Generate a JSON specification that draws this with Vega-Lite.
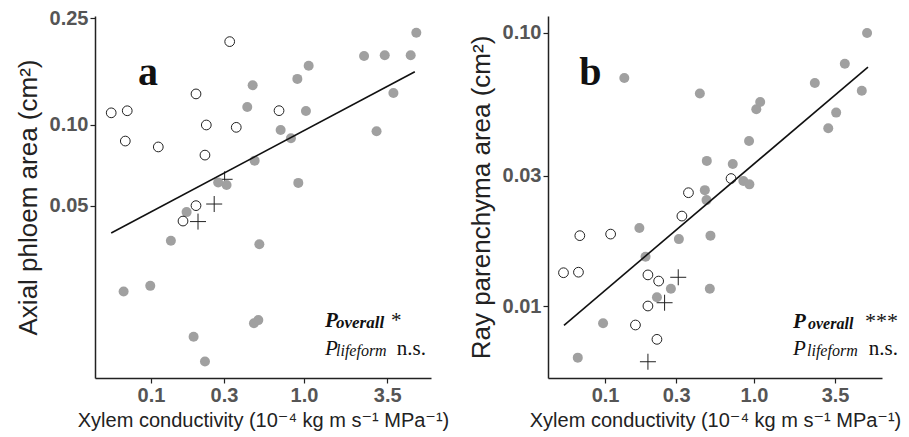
{
  "$schema": "https://vega.github.io/schema/vega-lite/v6.json",
  "padding": {"left": 15, "top": 8, "right": 2, "bottom": 2},
  "background": "white",
  "spacing": 19,
  "config": {
    "view": {"stroke": null},
    "axis": {
      "grid": false,
      "domainColor": "#222",
      "domainWidth": 1.5,
      "tickColor": "#222",
      "tickWidth": 1.2,
      "tickSize": 5,
      "labelPadding": 2,
      "labelFont": "Liberation Sans",
      "labelFontWeight": "bold",
      "labelFontSize": 20,
      "labelColor": "#555",
      "titleFont": "Liberation Sans, DejaVu Sans",
      "titleFontWeight": "normal",
      "titleColor": "#222"
    },
    "axisX": {"titleFontSize": 20, "titlePadding": 5},
    "axisY": {"titleFontSize": 26, "titlePadding": 8}
  },
  "datasets": {
    "a": [
      {"x": 0.055, "y": 0.111, "g": "open"},
      {"x": 0.070, "y": 0.113, "g": "open"},
      {"x": 0.068, "y": 0.0871, "g": "open"},
      {"x": 0.1117, "y": 0.0828, "g": "open"},
      {"x": 0.197, "y": 0.1306, "g": "open"},
      {"x": 0.230, "y": 0.100, "g": "open"},
      {"x": 0.2254, "y": 0.0772, "g": "open"},
      {"x": 0.327, "y": 0.2047, "g": "open"},
      {"x": 0.361, "y": 0.098, "g": "open"},
      {"x": 0.687, "y": 0.1131, "g": "open"},
      {"x": 0.197, "y": 0.050, "g": "open"},
      {"x": 0.162, "y": 0.0438, "g": "open"},
      {"x": 0.259, "y": 0.0507, "g": "cross"},
      {"x": 0.203, "y": 0.0436, "g": "cross"},
      {"x": 0.303, "y": 0.0627, "g": "cross"},
      {"x": 0.0663, "y": 0.0239, "g": "gray"},
      {"x": 0.099, "y": 0.0251, "g": "gray"},
      {"x": 0.135, "y": 0.037, "g": "gray"},
      {"x": 0.171, "y": 0.0473, "g": "gray"},
      {"x": 0.190, "y": 0.0162, "g": "gray"},
      {"x": 0.2254, "y": 0.0131, "g": "gray"},
      {"x": 0.275, "y": 0.061, "g": "gray"},
      {"x": 0.312, "y": 0.0597, "g": "gray"},
      {"x": 0.426, "y": 0.1167, "g": "gray"},
      {"x": 0.462, "y": 0.1406, "g": "gray"},
      {"x": 0.476, "y": 0.0736, "g": "gray"},
      {"x": 0.511, "y": 0.0359, "g": "gray"},
      {"x": 0.471, "y": 0.0182, "g": "gray"},
      {"x": 0.503, "y": 0.0187, "g": "gray"},
      {"x": 0.704, "y": 0.0958, "g": "gray"},
      {"x": 0.822, "y": 0.0892, "g": "gray"},
      {"x": 0.905, "y": 0.1486, "g": "gray"},
      {"x": 0.918, "y": 0.0608, "g": "gray"},
      {"x": 1.03, "y": 0.1127, "g": "gray"},
      {"x": 1.073, "y": 0.1664, "g": "gray"},
      {"x": 2.47, "y": 0.181, "g": "gray"},
      {"x": 2.98, "y": 0.0947, "g": "gray"},
      {"x": 3.37, "y": 0.182, "g": "gray"},
      {"x": 3.84, "y": 0.1316, "g": "gray"},
      {"x": 4.98, "y": 0.182, "g": "gray"},
      {"x": 5.42, "y": 0.221, "g": "gray"}
    ],
    "b": [
      {"x": 0.0526, "y": 0.01324, "g": "open"},
      {"x": 0.0663, "y": 0.0133, "g": "open"},
      {"x": 0.0677, "y": 0.0181, "g": "open"},
      {"x": 0.109, "y": 0.01834, "g": "open"},
      {"x": 0.194, "y": 0.013, "g": "open"},
      {"x": 0.229, "y": 0.01234, "g": "open"},
      {"x": 0.194, "y": 0.010, "g": "open"},
      {"x": 0.160, "y": 0.00852, "g": "open"},
      {"x": 0.223, "y": 0.00755, "g": "open"},
      {"x": 0.328, "y": 0.02135, "g": "open"},
      {"x": 0.363, "y": 0.026, "g": "open"},
      {"x": 0.701, "y": 0.0293, "g": "open"},
      {"x": 0.310, "y": 0.01274, "g": "cross"},
      {"x": 0.251, "y": 0.01028, "g": "cross"},
      {"x": 0.194, "y": 0.00625, "g": "cross"},
      {"x": 0.0656, "y": 0.00647, "g": "gray"},
      {"x": 0.097, "y": 0.00865, "g": "gray"},
      {"x": 0.1347, "y": 0.0684, "g": "gray"},
      {"x": 0.170, "y": 0.0193, "g": "gray"},
      {"x": 0.187, "y": 0.01516, "g": "gray"},
      {"x": 0.223, "y": 0.01076, "g": "gray"},
      {"x": 0.2767, "y": 0.01157, "g": "gray"},
      {"x": 0.313, "y": 0.01758, "g": "gray"},
      {"x": 0.433, "y": 0.06, "g": "gray"},
      {"x": 0.4675, "y": 0.02657, "g": "gray"},
      {"x": 0.48, "y": 0.02443, "g": "gray"},
      {"x": 0.482, "y": 0.034, "g": "gray"},
      {"x": 0.510, "y": 0.0181, "g": "gray"},
      {"x": 0.505, "y": 0.01157, "g": "gray"},
      {"x": 0.720, "y": 0.0331, "g": "gray"},
      {"x": 0.848, "y": 0.0287, "g": "gray"},
      {"x": 0.931, "y": 0.0279, "g": "gray"},
      {"x": 0.926, "y": 0.0402, "g": "gray"},
      {"x": 1.036, "y": 0.0526, "g": "gray"},
      {"x": 1.10, "y": 0.0559, "g": "gray"},
      {"x": 2.56, "y": 0.0656, "g": "gray"},
      {"x": 3.15, "y": 0.0448, "g": "gray"},
      {"x": 3.56, "y": 0.0511, "g": "gray"},
      {"x": 4.07, "y": 0.0772, "g": "gray"},
      {"x": 5.29, "y": 0.0614, "g": "gray"},
      {"x": 5.74, "y": 0.100, "g": "gray"}
    ],
    "fa": [{"x": 0.055, "y": 0.0395}, {"x": 5.3, "y": 0.158}],
    "fb": [{"x": 0.053, "y": 0.0085}, {"x": 5.82, "y": 0.075}]
  },
  "hconcat": [
    {
      "width": 336,
      "height": 362,
      "encoding": {
        "x": {"field": "x", "type": "quantitative",
          "scale": {"type": "log", "domain": [0.0431, 6.76], "nice": false, "zero": false},
          "axis": {"values": [0.1, 0.3, 1, 3.5], "format": ".1f", "title": "Xylem conductivity (10⁻⁴ kg m s⁻¹ MPa⁻¹)"}},
        "y": {"field": "y", "type": "quantitative",
          "scale": {"type": "log", "domain": [0.01137, 0.2551], "nice": false, "zero": false},
          "axis": {"values": [0.05, 0.1, 0.25], "format": ".2f", "title": "Axial phloem area (cm²)"}}
      },
      "layer": [
        {"data": {"name": "a"}, "transform": [{"filter": "datum.g === 'cross'"}],
          "mark": {"type": "point", "shape": "M-1,0H1M0,-1V1", "size": 256, "filled": false, "stroke": "#222", "strokeWidth": 1, "opacity": 1}},
        {"data": {"name": "a"}, "transform": [{"filter": "datum.g === 'gray'"}],
          "mark": {"type": "circle", "size": 100, "color": "#a0a0a0", "opacity": 1}},
        {"data": {"name": "a"}, "transform": [{"filter": "datum.g === 'open'"}],
          "mark": {"type": "circle", "size": 95, "fill": "white", "stroke": "#222", "strokeWidth": 1, "opacity": 1, "fillOpacity": 1}},
        {"data": {"name": "fa"}, "mark": {"type": "line", "color": "#111", "strokeWidth": 1.6}},
        {"data": {"values": [{"x": 0.0822, "y": 0.141, "t": "a"}]},
          "mark": {"type": "text", "font": "Liberation Serif", "fontWeight": "bold", "fontSize": 40, "align": "left", "baseline": "alphabetic", "color": "#111"},
          "encoding": {"text": {"field": "t"}}},
        {"data": {"values": [{"x": 1.372, "y": 0.01763, "t": "P"}]},
          "mark": {"type": "text", "font": "Liberation Serif", "fontWeight": "bold", "fontStyle": "italic", "fontSize": 21, "align": "left", "baseline": "alphabetic", "color": "#111"},
          "encoding": {"text": {"field": "t"}}},
        {"data": {"values": [{"x": 1.619, "y": 0.01748, "t": "overall"}]},
          "mark": {"type": "text", "font": "Liberation Serif", "fontWeight": "bold", "fontStyle": "italic", "fontSize": 17, "align": "left", "baseline": "alphabetic", "color": "#111"},
          "encoding": {"text": {"field": "t"}}},
        {"data": {"values": [{"x": 3.70, "y": 0.01763, "t": "*"}]},
          "mark": {"type": "text", "font": "Liberation Serif", "fontSize": 21, "align": "left", "baseline": "alphabetic", "color": "#111"},
          "encoding": {"text": {"field": "t"}}},
        {"data": {"values": [{"x": 1.372, "y": 0.01386, "t": "P"}]},
          "mark": {"type": "text", "font": "Liberation Serif", "fontStyle": "italic", "fontSize": 21, "align": "left", "baseline": "alphabetic", "color": "#111"},
          "encoding": {"text": {"field": "t"}}},
        {"data": {"values": [{"x": 1.619, "y": 0.01374, "t": "lifeform"}]},
          "mark": {"type": "text", "font": "Liberation Serif", "fontStyle": "italic", "fontSize": 16, "align": "left", "baseline": "alphabetic", "color": "#111"},
          "encoding": {"text": {"field": "t"}}},
        {"data": {"values": [{"x": 6.27, "y": 0.01386, "t": "n.s."}]},
          "mark": {"type": "text", "font": "Liberation Serif", "fontSize": 21, "align": "right", "baseline": "alphabetic", "color": "#111"},
          "encoding": {"text": {"field": "t"}}}
      ]
    },
    {
      "width": 334,
      "height": 362,
      "encoding": {
        "x": {"field": "x", "type": "quantitative",
          "scale": {"type": "log", "domain": [0.0414, 7.23], "nice": false, "zero": false},
          "axis": {"values": [0.1, 0.3, 1, 3.5], "format": ".1f", "title": "Xylem conductivity (10⁻⁴ kg m s⁻¹ MPa⁻¹)"}},
        "y": {"field": "y", "type": "quantitative",
          "scale": {"type": "log", "domain": [0.005449, 0.1154], "nice": false, "zero": false},
          "axis": {"values": [0.01, 0.03, 0.1], "format": ".2f", "title": "Ray parenchyma area (cm²)"}}
      },
      "layer": [
        {"data": {"name": "b"}, "transform": [{"filter": "datum.g === 'cross'"}],
          "mark": {"type": "point", "shape": "M-1,0H1M0,-1V1", "size": 256, "filled": false, "stroke": "#222", "strokeWidth": 1, "opacity": 1}},
        {"data": {"name": "b"}, "transform": [{"filter": "datum.g === 'gray'"}],
          "mark": {"type": "circle", "size": 100, "color": "#a0a0a0", "opacity": 1}},
        {"data": {"name": "b"}, "transform": [{"filter": "datum.g === 'open'"}],
          "mark": {"type": "circle", "size": 95, "fill": "white", "stroke": "#222", "strokeWidth": 1, "opacity": 1, "fillOpacity": 1}},
        {"data": {"name": "fb"}, "mark": {"type": "line", "color": "#111", "strokeWidth": 1.6}},
        {"data": {"values": [{"x": 0.067, "y": 0.0645, "t": "b"}]},
          "mark": {"type": "text", "font": "Liberation Serif", "fontWeight": "bold", "fontSize": 40, "align": "left", "baseline": "alphabetic", "color": "#111"},
          "encoding": {"text": {"field": "t"}}},
        {"data": {"values": [{"x": 1.827, "y": 0.008306, "t": "P"}]},
          "mark": {"type": "text", "font": "Liberation Serif", "fontWeight": "bold", "fontStyle": "italic", "fontSize": 21, "align": "left", "baseline": "alphabetic", "color": "#111"},
          "encoding": {"text": {"field": "t"}}},
        {"data": {"values": [{"x": 2.304, "y": 0.008237, "t": "overall"}]},
          "mark": {"type": "text", "font": "Liberation Serif", "fontWeight": "bold", "fontStyle": "italic", "fontSize": 16, "align": "left", "baseline": "alphabetic", "color": "#111"},
          "encoding": {"text": {"field": "t"}}},
        {"data": {"values": [{"x": 9.26, "y": 0.008306, "t": "***"}]},
          "mark": {"type": "text", "font": "Liberation Serif", "fontSize": 22, "align": "right", "baseline": "alphabetic", "color": "#111"},
          "encoding": {"text": {"field": "t"}}},
        {"data": {"values": [{"x": 1.827, "y": 0.006614, "t": "P"}]},
          "mark": {"type": "text", "font": "Liberation Serif", "fontStyle": "italic", "fontSize": 21, "align": "left", "baseline": "alphabetic", "color": "#111"},
          "encoding": {"text": {"field": "t"}}},
        {"data": {"values": [{"x": 2.269, "y": 0.006562, "t": "lifeform"}]},
          "mark": {"type": "text", "font": "Liberation Serif", "fontStyle": "italic", "fontSize": 16, "align": "left", "baseline": "alphabetic", "color": "#111"},
          "encoding": {"text": {"field": "t"}}},
        {"data": {"values": [{"x": 9.26, "y": 0.006614, "t": "n.s."}]},
          "mark": {"type": "text", "font": "Liberation Serif", "fontSize": 21, "align": "right", "baseline": "alphabetic", "color": "#111"},
          "encoding": {"text": {"field": "t"}}}
      ]
    }
  ]
}
